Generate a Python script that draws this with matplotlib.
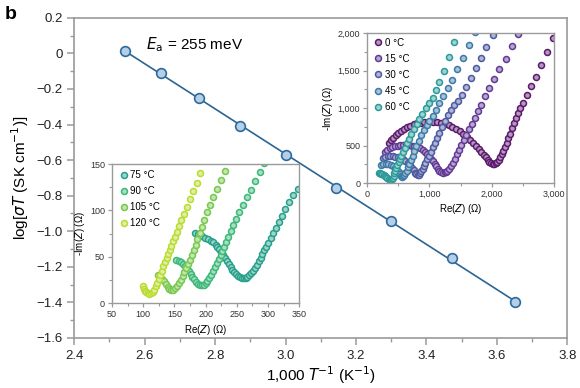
import matplotlib
matplotlib.use("Agg")
import matplotlib.pyplot as plt
from matplotlib.ticker import MultipleLocator, FuncFormatter
import numpy as np

plt.rcParams['font.family'] = ['Liberation Sans', 'DejaVu Sans']
plt.rcParams['axes.unicode_minus'] = True

# ---------------- main Arrhenius data ----------------
inv_T = [2.544, 2.646, 2.754, 2.872, 3.002, 3.143, 3.299, 3.472, 3.653]
log_sigmaT = [0.015, -0.112, -0.253, -0.406, -0.570, -0.758, -0.945, -1.153, -1.398]
ea_label = "255"

# ---------------- inset 1 (0-60 C) Nyquist data (Ohm) ----------------
labels_low = ["0 °C", "15 °C", "30 °C", "45 °C", "60 °C"]
nyq_0C = [(350, 540), (385, 572), (420, 602), (460, 636), (500, 667), (545, 695), (590, 720),
          (640, 745), (690, 766), (745, 785), (800, 797), (860, 806), (920, 812), (985, 815),
          (1050, 814), (1115, 810), (1180, 803), (1245, 790), (1310, 772), (1370, 750),
          (1430, 722), (1490, 690), (1545, 655), (1600, 617), (1650, 578), (1700, 540),
          (1745, 500), (1790, 460), (1830, 420), (1870, 380), (1905, 345), (1935, 312),
          (1965, 284), (1990, 264), (2015, 253), (2040, 252), (2065, 262), (2090, 280),
          (2115, 308), (2140, 345), (2165, 387), (2190, 432), (2215, 482), (2240, 535),
          (2265, 595), (2295, 660), (2325, 730), (2355, 800), (2390, 870), (2425, 940),
          (2460, 1000), (2500, 1070), (2560, 1170), (2640, 1290), (2720, 1420),
          (2800, 1570), (2890, 1750), (2990, 1930)]
nyq_15C = [(285, 420), (320, 445), (360, 465), (400, 480), (445, 492), (490, 500), (535, 505),
           (580, 508), (625, 508), (670, 506), (715, 500), (760, 492), (805, 480), (850, 465),
           (890, 445), (930, 420), (965, 392), (1000, 360), (1030, 325), (1060, 290),
           (1085, 255), (1110, 222), (1135, 192), (1160, 167), (1190, 150), (1220, 141),
           (1245, 142), (1268, 150), (1290, 165), (1315, 185), (1345, 222), (1375, 270),
           (1405, 325), (1440, 385), (1475, 445), (1510, 505), (1550, 570), (1590, 640),
           (1635, 715), (1680, 790), (1730, 870), (1784, 956), (1837, 1044), (1891, 1156),
           (1961, 1267), (2041, 1387), (2121, 1520), (2223, 1653), (2330, 1831), (2427, 1991)]
nyq_30C = [(250, 335), (290, 348), (330, 355), (370, 357), (410, 355), (450, 350), (490, 342),
           (530, 332), (570, 318), (610, 298), (650, 272), (690, 240), (720, 205), (745, 172),
           (770, 140), (790, 117), (810, 107), (830, 112), (850, 130), (870, 158), (890, 192),
           (912, 230), (935, 272), (960, 318), (988, 367), (1018, 420), (1050, 477),
           (1085, 538), (1122, 602), (1162, 672), (1205, 745), (1252, 822), (1302, 902),
           (1350, 968), (1400, 1035), (1455, 1100), (1519, 1175), (1588, 1275), (1663, 1395),
           (1743, 1530), (1829, 1670), (1909, 1809), (2026, 1977)]
nyq_45C = [(225, 245), (260, 255), (300, 258), (340, 255), (380, 246), (420, 230), (455, 207),
           (485, 178), (510, 148), (530, 118), (548, 95), (565, 84), (582, 90), (598, 106),
           (615, 132), (635, 168), (655, 210), (678, 258), (703, 310), (730, 365), (760, 425),
           (792, 490), (828, 560), (868, 635), (910, 705), (955, 770), (1000, 830),
           (1050, 900), (1100, 975), (1160, 1065), (1225, 1160), (1295, 1265), (1370, 1380),
           (1450, 1515), (1535, 1665), (1630, 1835), (1728, 2010)]
nyq_60C = [(185, 135), (205, 130), (225, 124), (245, 117), (265, 107), (285, 95), (305, 82),
           (325, 68), (345, 55), (365, 46), (385, 42), (400, 50), (413, 72), (425, 100),
           (438, 130), (452, 162), (468, 198), (485, 235), (504, 275), (525, 318), (550, 365),
           (578, 418), (608, 472), (640, 528), (675, 588), (712, 650), (752, 716), (795, 786),
           (840, 855), (888, 925), (940, 995), (995, 1065), (1050, 1140), (1105, 1235),
           (1160, 1345), (1228, 1490), (1310, 1680), (1400, 1876)]
nyq_low = [nyq_0C, nyq_15C, nyq_30C, nyq_45C, nyq_60C]
colors_low = ['#5c1a6e', '#623a96', '#4d5a9f', '#3d7aa6', '#2b9a9a']

# ---------------- inset 2 (75-120 C) Nyquist data (Ohm) ----------------
labels_high = ["75 °C", "90 °C", "105 °C", "120 °C"]
nyq_75C = [(183, 76), (188, 74.5), (194, 72), (199, 70.5), (204, 69), (208, 67.5), (212, 65.5),
           (216, 63), (219, 60.5), (222, 58), (225, 55.5), (228, 52), (231, 48.5),
           (234, 45), (237, 42), (240, 39), (243, 36), (246, 33.5), (249, 31.5), (252, 29.5),
           (255, 28.2), (258, 27.2), (261, 26.8), (264, 27), (267, 28), (270, 30),
           (273, 32.5), (276, 35), (279, 38), (282, 41.5), (285, 45), (288, 49), (291, 53),
           (294, 57), (297, 61), (300, 65), (304, 70), (308, 75.5), (312, 81), (317, 87.5),
           (322, 94), (327.5, 101), (333.5, 109), (340.5, 116.5), (348, 123)]
nyq_90C = [(153, 47), (157, 45.5), (161, 44), (164, 42), (167, 40), (170, 37.5), (173, 34.5),
           (176, 31.5), (179, 28.5), (182, 25.5), (185, 23), (188, 21), (191, 19.8),
           (194, 19.3), (197, 19.8), (200, 21.5), (203, 24), (206, 27), (209, 30.5),
           (212, 34.5), (215, 38.5), (218, 43), (221, 47.5), (224, 52), (227, 56.5),
           (230, 61), (233, 66), (236.5, 71.5), (240.5, 77.5), (244.5, 84), (249, 91),
           (254, 98.5), (259.5, 106), (265.5, 114), (272, 122.5), (279, 131.5), (286.5, 141),
           (294, 151)]
nyq_105C = [(124, 30), (127, 28), (130, 26), (133, 23.5), (136, 20.5), (139, 17.5),
            (142, 15.2), (145, 14), (148, 14.3), (151, 16), (154, 18.5), (157, 21.5),
            (160, 25), (163, 29), (166, 33), (169, 37.5), (172, 42), (175, 47), (178, 52),
            (181, 57.5), (184, 63), (187, 69), (190.5, 75.5), (194, 82.5), (198, 90),
            (202.5, 98), (207, 106), (212, 114.5), (217.5, 123), (224, 132.5), (231, 142.5)]
nyq_120C = [(100, 18), (101.5, 15.5), (103, 13.3), (105, 11.8), (107.5, 10.8), (110, 10.2),
            (112.5, 10.5), (115, 12), (117.5, 14.5), (120, 18), (122.5, 22), (125, 26),
            (127.5, 30.5), (130, 35), (132.5, 39.5), (135, 44), (137.5, 48.5), (140, 53),
            (142.5, 57.5), (145, 62), (147.5, 66.5), (150.5, 71.5), (153.5, 77),
            (157, 83), (161, 89.5), (165, 96.5), (169.5, 104), (174.5, 112),
            (180, 120.5), (185.5, 130), (191, 140)]
nyq_high = [nyq_75C, nyq_90C, nyq_105C, nyq_120C]
colors_high = ['#27a08a', '#3cb878', '#78c84e', '#b8dc30']


def lighten(c, amt=0.6):
    rgb = np.array(matplotlib.colors.to_rgb(c))
    return tuple(rgb + (1 - rgb) * amt)


spine_col = '#9a9a9a'

fig = plt.figure(figsize=(5.8, 3.88), dpi=100)
ax = fig.add_axes([0.128, 0.129, 0.850, 0.825])

# fit line through points
coef = np.polyfit(inv_T, log_sigmaT, 1)
xl = np.array([min(inv_T), max(inv_T)])
ax.plot(xl, np.polyval(coef, xl), color='#2b6592', lw=1.2, zorder=2)
ax.plot(inv_T, log_sigmaT, 'o', ms=7, mfc='#b5cfe8', mec='#2e6b9c', mew=1.2, zorder=3)

ax.set_xlim(2.4, 3.8)
ax.set_ylim(-1.6, 0.2)
ax.xaxis.set_major_locator(MultipleLocator(0.2))
ax.xaxis.set_minor_locator(MultipleLocator(0.1))
ax.yaxis.set_major_locator(MultipleLocator(0.2))
ax.yaxis.set_minor_locator(MultipleLocator(0.1))


def fmt_main(v, pos):
    if abs(v) < 1e-9:
        return "0"
    s = f"{v:.1f}"
    return s.replace("-", "\u2212")


ax.xaxis.set_major_formatter(FuncFormatter(lambda v, p: f"{v:.1f}"))
ax.yaxis.set_major_formatter(FuncFormatter(fmt_main))
ax.tick_params(which='both', direction='out', color=spine_col, labelsize=9.5, labelcolor='#222222')
ax.tick_params(which='major', length=5, width=1.1)
ax.tick_params(which='minor', length=3, width=1.0)
for s in ax.spines.values():
    s.set_color(spine_col)
    s.set_linewidth(1.2)
ax.set_xlabel("1,000 $\\it{T}$$^{-1}$ (K$^{-1}$)", fontsize=11, labelpad=1.5)
ax.set_ylabel("log[$\\it{σT}$ (SK cm$^{-1}$)]", fontsize=11, labelpad=4)
ax.text(2.605, 0.05, "$\\it{E}$$_{\\rm a}$ = " + ea_label + " meV", fontsize=11, va='center')
fig.text(0.008, 0.985, "b", fontsize=14, fontweight='bold', va='top')


def style_inset(a):
    a.tick_params(which='both', direction='out', color=spine_col, labelsize=6.5, labelcolor='#333333', pad=2)
    a.tick_params(which='major', length=3, width=0.9)
    a.tick_params(which='minor', length=2, width=0.8)
    for s in a.spines.values():
        s.set_color(spine_col)
        s.set_linewidth(1.0)
    a.patch.set_alpha(0)


# ---- inset 1 ----
ax1 = fig.add_axes([0.633, 0.528, 0.322, 0.387])
for pts, col, lab in zip(nyq_low, colors_low, labels_low):
    re = [p[0] for p in pts]
    im = [p[1] for p in pts]
    ax1.plot(re, im, 'o', ls='none', ms=4.3, mfc=lighten(col, 0.55), mec=col, mew=1.1, label=lab, clip_on=True)
ax1.set_xlim(0, 3000)
ax1.set_ylim(0, 2000)
ax1.xaxis.set_major_locator(MultipleLocator(1000))
ax1.xaxis.set_minor_locator(MultipleLocator(500))
ax1.yaxis.set_major_locator(MultipleLocator(500))
ax1.yaxis.set_minor_locator(MultipleLocator(250))
ax1.xaxis.set_major_formatter(FuncFormatter(lambda v, p: f"{int(v):,}"))
ax1.yaxis.set_major_formatter(FuncFormatter(lambda v, p: f"{int(v):,}"))
style_inset(ax1)
ax1.set_xlabel("Re($\\it{Z}$) (Ω)", fontsize=7, labelpad=2)
ax1.set_ylabel("-Im($\\it{Z}$) (Ω)", fontsize=7, labelpad=2)
ax1.legend(loc='upper left', frameon=False, fontsize=7, handletextpad=0.1, borderaxespad=0.3,
           labelspacing=0.62, handlelength=1.2, borderpad=0.2)

# ---- inset 2 ----
ax2 = fig.add_axes([0.193, 0.219, 0.323, 0.358])
for pts, col, lab in zip(nyq_high, colors_high, labels_high):
    re = [p[0] for p in pts]
    im = [p[1] for p in pts]
    ax2.plot(re, im, 'o', ls='none', ms=4.3, mfc=lighten(col, 0.55), mec=col, mew=1.1, label=lab)
ax2.set_xlim(50, 350)
ax2.set_ylim(0, 150)
ax2.xaxis.set_major_locator(MultipleLocator(50))
ax2.xaxis.set_minor_locator(MultipleLocator(25))
ax2.yaxis.set_major_locator(MultipleLocator(50))
ax2.yaxis.set_minor_locator(MultipleLocator(25))
style_inset(ax2)
ax2.set_xlabel("Re($\\it{Z}$) (Ω)", fontsize=7, labelpad=3)
ax2.set_ylabel("-Im($\\it{Z}$) (Ω)", fontsize=7, labelpad=2)
ax2.legend(loc='upper left', frameon=False, fontsize=7, handletextpad=0.1, borderaxespad=0.3,
           labelspacing=0.62, handlelength=1.2, borderpad=0.3)

fig.savefig("out.png", dpi=100)
